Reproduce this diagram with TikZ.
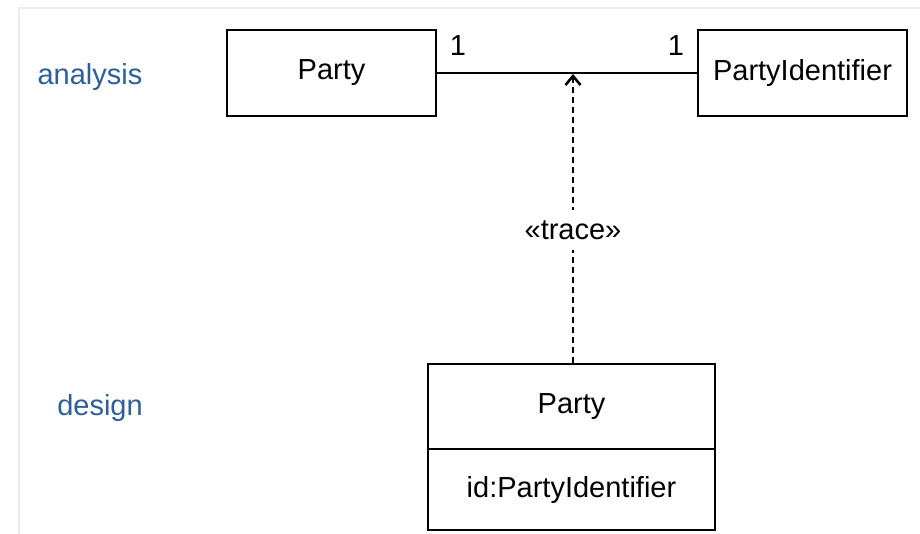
\documentclass[tikz,border=0pt]{standalone}
\usepackage{fontspec}
\setmainfont{Liberation Sans}
\usetikzlibrary{arrows.meta}
\definecolor{lblblue}{RGB}{45,95,155}
\definecolor{framegrey}{RGB}{236,236,236}
\begin{document}
\begin{tikzpicture}[x=1pt,y=-1pt,
  classbox/.style={draw=black,line width=2.9pt,rectangle,inner sep=0pt,font=\fontsize{29}{34}\selectfont},
  txt/.style={font=\fontsize{29}{34}\selectfont,inner sep=0pt},
  layer/.style={font=\fontsize{29}{34}\selectfont,text=lblblue,inner sep=0pt},
  assoc/.style={line width=2.9pt},
  tracedep/.style={line width=2.6pt,dash pattern=on 6pt off 4pt,-{Straight Barb[length=9pt,width=15pt,line width=2.6pt]}}]
\useasboundingbox (0,0) rectangle (920,534);
\fill[white] (0,0) rectangle (920,534);
\draw[framegrey,line width=2pt] (19,534) -- (19,8) -- (920,8);
% analysis classes
\node[classbox,minimum width=209pt,minimum height=86pt] (party) at (331.5,73) {Party};
\node[classbox,minimum width=209pt,minimum height=86pt] (pid) at (802.5,73) {PartyIdentifier};
\draw[assoc] (party.east) -- (pid.west);
\node[txt] (m1) at (458,46) {1};
\node[txt] (m2) at (676,46) {1};
% design class
\node[classbox,minimum width=287pt,minimum height=85pt] (dparty) at (571.5,406.5) {Party};
\node[classbox,minimum width=287pt,minimum height=81pt] (dattr) at (571.5,489.5) {id:PartyIdentifier};
% trace dependency
\coordinate (tip) at (573,74);
\draw[tracedep] (dparty.north -| tip) -- (tip);
\node[txt,fill=white,inner xsep=4pt,inner ysep=10pt] (trace) at (573,230) {«trace»};
% layer labels
\node[layer] (analysis) at (90,77) {analysis};
\node[layer] (design) at (100,408) {design};
\end{tikzpicture}
\end{document}
